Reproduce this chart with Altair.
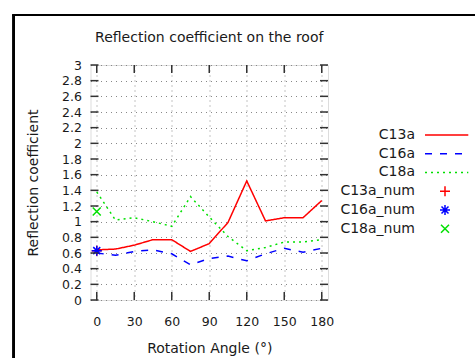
import altair as alt
import pandas as pd

# ---------------- data ----------------
angles = [0, 15, 30, 45, 60, 75, 90, 105, 120, 135, 150, 165, 180]
c13a = [0.64, 0.65, 0.70, 0.77, 0.77, 0.62, 0.72, 0.99, 1.52, 1.01, 1.05, 1.05, 1.27]
c16a = [0.60, 0.57, 0.62, 0.64, 0.59, 0.45, 0.53, 0.56, 0.50, 0.59, 0.66, 0.61, 0.66]
c18a = [1.38, 1.02, 1.05, 1.00, 0.94, 1.32, 1.06, 0.81, 0.63, 0.67, 0.74, 0.74, 0.77]

num_angles = [0]
c13a_num = [0.63]
c16a_num = [0.63]
c18a_num = [1.13]

line_names = ["C13a", "C16a", "C18a"]
num_names = ["C13a_num", "C16a_num", "C18a_num"]
all_names = line_names + num_names

x_ticks = [0, 30, 60, 90, 120, 150, 180]
y_ticks = [0, 0.2, 0.4, 0.6, 0.8, 1, 1.2, 1.4, 1.6, 1.8, 2, 2.2, 2.4, 2.6, 2.8, 3]

chart_title = "Reflection coefficient on the roof"

colors = ["#ff0000", "#0000ff", "#00e000", "#ff0000", "#0000ff", "#00e000"]
dashes = [[1, 0], [7, 8], [2, 4]]
plus_path = "M-1,0L1,0M0,-1L0,1"
star_path = "M-1,0L1,0M0,-1L0,1M-0.7,-0.7L0.7,0.7M-0.7,0.7L0.7,-0.7"
x_path = "M-0.8,-0.8L0.8,0.8M-0.8,0.8L0.8,-0.8"

FONT = "DejaVu Sans"
TXT = "#1a1a1a"

# ---------------- tables ----------------
rows = []
for name, vals in zip(line_names, [c13a, c16a, c18a]):
    for a, v in zip(angles, vals):
        rows.append({"series": name, "angle": a, "value": v})
lines_df = pd.DataFrame(rows)

prow = []
for name, vals in zip(num_names, [c13a_num, c16a_num, c18a_num]):
    for a, v in zip(num_angles, vals):
        prow.append({"series": name, "angle": a, "value": v})
pts_df = pd.DataFrame(prow)

xt_df = pd.DataFrame({"angle": x_ticks})
yt_df = pd.DataFrame({"value": y_ticks})
leg_df = pd.DataFrame({"series": all_names})
title_df = pd.DataFrame({"t": [chart_title]})

W, H = 237.5, 235

# ---------------- encodings ----------------
x_axis = alt.Axis(values=x_ticks, title="Rotation Angle (°)", grid=True,
                  gridDash=[1, 4], gridColor="#888", gridWidth=1,
                  domain=False, ticks=False, labelPadding=15, labelFlush=False,
                  labelFont=FONT, labelFontSize=12.5, labelColor=TXT,
                  titleFont=FONT, titleFontSize=14, titleColor=TXT,
                  titleFontWeight="normal", titlePadding=14)
y_axis = alt.Axis(values=y_ticks, format="~g", title="Reflection coefficient",
                  grid=True, gridDash=[1, 4], gridColor="#888", gridWidth=1,
                  domain=False, ticks=False, labelPadding=9, labelFlush=False,
                  labelFont=FONT, labelFontSize=12.5, labelColor=TXT,
                  titleFont=FONT, titleFontSize=14, titleColor=TXT,
                  titleFontWeight="normal", titlePadding=21)
xs = alt.Scale(domain=[-5, 185], nice=False, zero=False)
ys = alt.Scale(domain=[0, 3], nice=False, zero=False)
X = alt.X("angle:Q", scale=xs, axis=x_axis)
Y = alt.Y("value:Q", scale=ys, axis=y_axis)

color_enc = alt.Color("series:N", scale=alt.Scale(domain=all_names, range=colors), legend=None)
dash_enc = alt.StrokeDash("series:N", scale=alt.Scale(domain=line_names, range=dashes), legend=None)
shape_enc = alt.Shape("series:N", scale=alt.Scale(domain=num_names, range=[plus_path, star_path, x_path]), legend=None)

lines = alt.Chart(lines_df).mark_line(strokeWidth=1.5, clip=True).encode(
    x=X, y=Y, color=color_enc, strokeDash=dash_enc)
points = alt.Chart(pts_df).mark_point(filled=False, strokeWidth=1.5, size=100, opacity=1).encode(
    x=X, y=Y, color=color_enc, shape=shape_enc)

tick_col = "#333"
xt_bot = alt.Chart(xt_df).mark_rule(color=tick_col, strokeWidth=1.5).encode(
    x=X, y=alt.value(H), y2=alt.value(H - 8))
xt_top = alt.Chart(xt_df).mark_rule(color=tick_col, strokeWidth=1.5).encode(
    x=X, y=alt.value(0), y2=alt.value(8))
yt_left = alt.Chart(yt_df).mark_rule(color=tick_col, strokeWidth=1.5).encode(
    y=Y, x=alt.value(0), x2=alt.value(8))
yt_right = alt.Chart(yt_df).mark_rule(color=tick_col, strokeWidth=1.5).encode(
    y=Y, x=alt.value(W), x2=alt.value(W - 8))

frame_v = alt.Chart(xt_df).mark_rule(color="black", strokeWidth=2).encode(
    x=alt.value(-76.8), y=alt.value(-50), y2=alt.value(300))
frame_h = alt.Chart(xt_df).mark_rule(color="black", strokeWidth=2).encode(
    x=alt.value(-77.8), x2=alt.value(390), y=alt.value(-50))

title_mark = alt.Chart(title_df).mark_text(align="center", baseline="alphabetic", font=FONT,
                                           fontSize=14, color=TXT).encode(
    x=alt.value(W / 2), y=alt.value(-23), text="t:N")

main = alt.layer(lines, points, xt_bot, xt_top, yt_left, yt_right, frame_v, frame_h, title_mark)

# ---------------- legend ----------------
LY = alt.Y("series:N", scale=alt.Scale(type="point", domain=all_names, range=[70, 163.7], padding=0), axis=None)
leg_text = alt.Chart(leg_df).mark_text(align="right", baseline="middle", font=FONT,
                                        fontSize=14, color=TXT).encode(
    x=alt.value(324.5), y=LY, text="series:N")
leg_lines = alt.Chart(leg_df).transform_filter(
    alt.FieldOneOfPredicate(field="series", oneOf=line_names)
).mark_rule(strokeWidth=1.5).encode(
    x=alt.value(334.5), x2=alt.value(377.8), y=LY, color=color_enc, strokeDash=dash_enc)
leg_pts = alt.Chart(leg_df).transform_filter(
    alt.FieldOneOfPredicate(field="series", oneOf=num_names)
).mark_point(filled=False, strokeWidth=1.5, size=100, opacity=1).encode(
    x=alt.value(354.5), y=LY, color=color_enc, shape=shape_enc)

legend = alt.layer(leg_text, leg_lines, leg_pts)

chart = alt.layer(main, legend).resolve_scale(y="independent").properties(
    width=W, height=H,
    autosize=alt.AutoSizeParams(type="none"),
    padding={"left": 90.5, "top": 65, "right": 147, "bottom": 58},
).configure_view(stroke="#333", strokeWidth=1.5).configure(background="white")

chart.save("out.html", embed_options={"renderer": "svg", "actions": False})
